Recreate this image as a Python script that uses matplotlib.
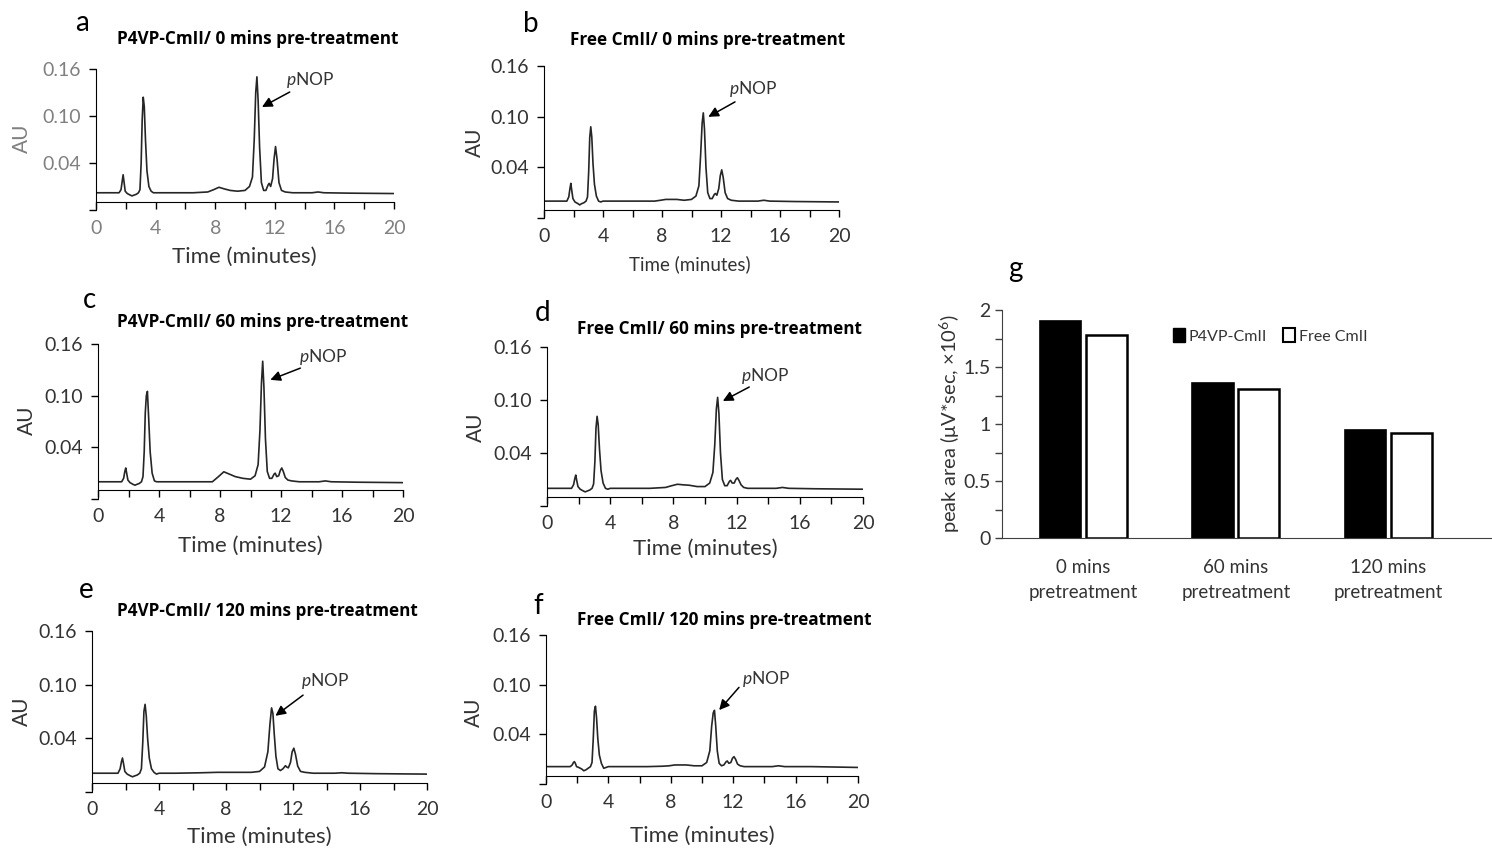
import matplotlib
matplotlib.use('Agg')
import matplotlib.pyplot as plt
from matplotlib.patches import Patch

plt.rcParams['font.family'] = ['Lato', 'DejaVu Sans']
plt.rcParams['mathtext.fontset'] = 'custom'
plt.rcParams['mathtext.rm'] = 'Lato'
plt.rcParams['mathtext.it'] = 'Lato:italic'

W, H = 1492, 851

# --- chromatogram data (time in minutes, absorbance in AU) ---
time_min = [0.0, 1.0, 1.55, 1.68, 1.76, 1.82, 1.88, 1.96, 2.1, 2.3,
            2.42, 2.55, 2.7, 2.85, 2.95, 3.03, 3.1, 3.17, 3.24, 3.32,
            3.42, 3.55, 3.7, 3.85, 4.0, 5.0, 6.5, 7.5, 7.9, 8.25,
            8.6, 9.0, 9.5, 10.0, 10.3, 10.5, 10.62, 10.72, 10.8, 10.88,
            10.98, 11.1, 11.25, 11.4, 11.55, 11.62, 11.72, 11.85, 11.95, 12.05,
            12.15, 12.28, 12.45, 12.7, 13.2, 14.5, 14.9, 15.3, 17.0, 20.0]

au_p4vp_0 = [0.002, 0.002, 0.002, 0.006, 0.017, 0.025, 0.016, 0.004, 0.001, -0.001,
             -0.002, -0.001, 0.000, 0.002, 0.006, 0.040, 0.095, 0.124, 0.112, 0.070,
             0.030, 0.010, 0.004, 0.002, 0.002, 0.002, 0.002, 0.003, 0.006, 0.009,
             0.007, 0.005, 0.004, 0.005, 0.010, 0.022, 0.070, 0.130, 0.150, 0.120,
             0.060, 0.015, 0.005, 0.005, 0.012, 0.014, 0.010, 0.020, 0.045, 0.061,
             0.045, 0.015, 0.005, 0.003, 0.002, 0.002, 0.003, 0.002, 0.0015, 0.001]

au_free_0 = [0.000, 0.000, 0.000, 0.005, 0.015, 0.021, 0.013, 0.003, -0.001, -0.003,
             -0.0045, -0.003, -0.002, 0.000, 0.005, 0.035, 0.075, 0.088, 0.076, 0.045,
             0.020, 0.006, 0.000, -0.001, 0.000, 0.000, 0.000, 0.000, 0.001, 0.002,
             0.002, 0.002, 0.001, 0.002, 0.006, 0.018, 0.055, 0.092, 0.1045, 0.085,
             0.040, 0.010, 0.003, 0.003, 0.008, 0.009, 0.007, 0.015, 0.030, 0.037,
             0.028, 0.010, 0.003, 0.001, 0.000, 0.000, 0.001, 0.000, -0.0005, -0.001]

au_p4vp_60 = [0.000, 0.000, 0.000, 0.004, 0.012, 0.016, 0.010, 0.002, -0.001, -0.003,
              -0.004, -0.003, -0.002, 0.000, 0.006, 0.035, 0.080, 0.100, 0.105, 0.075,
              0.035, 0.010, 0.001, 0.000, 0.000, 0.000, 0.000, 0.000, 0.006, 0.0116,
              0.009, 0.006, 0.004, 0.003, 0.007, 0.020, 0.060, 0.115, 0.140, 0.110,
              0.050, 0.012, 0.004, 0.004, 0.009, 0.010, 0.006, 0.007, 0.013, 0.016,
              0.012, 0.005, 0.002, 0.001, 0.000, 0.000, 0.001, 0.000, -0.0005, -0.001]

au_free_60 = [0.000, 0.000, 0.000, 0.004, 0.011, 0.015, 0.009, 0.002, -0.001, -0.003,
              -0.004, -0.003, -0.002, 0.000, 0.005, 0.030, 0.068, 0.0815, 0.072, 0.045,
              0.020, 0.006, 0.000, -0.001, 0.000, 0.000, 0.000, 0.001, 0.003, 0.0046,
              0.004, 0.0035, 0.002, 0.002, 0.006, 0.018, 0.050, 0.090, 0.103, 0.085,
              0.040, 0.010, 0.003, 0.003, 0.008, 0.009, 0.006, 0.006, 0.010, 0.012,
              0.009, 0.004, 0.001, 0.000, 0.000, 0.000, 0.001, 0.000, -0.0005, -0.001]

au_p4vp_120 = [0.001, 0.001, 0.001, 0.006, 0.014, 0.018, 0.012, 0.003, 0.000, -0.002,
               -0.003, -0.002, -0.001, 0.001, 0.006, 0.035, 0.070, 0.078, 0.065, 0.040,
               0.018, 0.006, 0.002, 0.000, 0.001, 0.001, 0.0015, 0.002, 0.002, 0.002,
               0.002, 0.002, 0.002, 0.003, 0.008, 0.025, 0.055, 0.074, 0.068, 0.045,
               0.020, 0.006, 0.004, 0.006, 0.0094, 0.008, 0.007, 0.013, 0.025, 0.029,
               0.022, 0.009, 0.003, 0.002, 0.001, 0.001, 0.0015, 0.001, 0.0005, 0.000]

au_free_120 = [0.001, 0.001, 0.001, 0.003, 0.006, 0.007, 0.005, 0.001, 0.000, -0.002,
               -0.004, -0.003, -0.001, 0.001, 0.006, 0.035, 0.068, 0.074, 0.060, 0.035,
               0.015, 0.005, -0.001, 0.000, 0.001, 0.001, 0.001, 0.0015, 0.002, 0.003,
               0.003, 0.003, 0.002, 0.002, 0.006, 0.020, 0.050, 0.066, 0.069, 0.050,
               0.020, 0.005, 0.002, 0.003, 0.007, 0.0078, 0.005, 0.006, 0.011, 0.013,
               0.010, 0.004, 0.002, 0.001, 0.001, 0.001, 0.002, 0.001, 0.001, 0.000]

au_ticks = [-0.02, 0.04, 0.10, 0.16]
au_ticklabels = ['', '0.04', '0.10', '0.16']

# --- bar chart data (peak area, x10^6 uV*sec) ---
bar_groups = ['0 mins\npretreatment', '60 mins\npretreatment', '120 mins\npretreatment']
area_p4vp = [1.90, 1.36, 0.95]
area_free = [1.78, 1.305, 0.925]

fig = plt.figure(figsize=(W / 100, H / 100), dpi=100)
TXT = '#333333'


def px_axes(l, t, r, b):
    return fig.add_axes([l / W, 1 - b / H, (r - l) / W, (b - t) / H])


def ftext(x, y, s, **kw):
    fig.text(x / W, 1 - y / H, s, **kw)


def chrom(box, values, head, tail, label_pos, tick_color):
    ax = px_axes(*box)
    ax.plot(time_min, values, color='#262626', lw=1.2)
    ax.set_xlim(0, 20)
    ax.set_ylim(-0.02, 0.16)
    ax.spines['top'].set_visible(False)
    ax.spines['right'].set_visible(False)
    ax.spines['bottom'].set_position(('data', -0.01))
    ax.set_xticks(range(0, 21, 2))
    ax.set_xticklabels([str(v) if v % 4 == 0 else '' for v in range(0, 21, 2)])
    ax.set_yticks(au_ticks)
    ax.set_yticklabels(au_ticklabels)
    ax.tick_params(direction='out', length=5, width=1, labelsize=14,
                   labelcolor=tick_color, pad=8)
    ax.tick_params(axis='y', pad=6)
    ax.annotate('', xy=head, xytext=tail,
                arrowprops=dict(arrowstyle='-|>', color='black', lw=1.1,
                                mutation_scale=15, shrinkA=0, shrinkB=0))
    ax.text(label_pos[0], label_pos[1], r'$\mathit{p}$NOP', ha='center',
            va='center', fontsize=12.5, color=TXT)
    return ax


chrom((96, 69, 394, 210), au_p4vp_0, (11.14, 0.1115), (13.0, 0.1306), (14.4, 0.146), '#808080')
chrom((544, 66, 839, 218), au_free_0, (11.14, 0.0998), (12.95, 0.1175), (14.17, 0.1325), TXT)
chrom((98, 344, 403, 499), au_p4vp_60, (11.3, 0.1184), (13.27, 0.132), (14.78, 0.1452), TXT)
chrom((547, 347, 863, 506), au_free_60, (11.13, 0.0989), (12.8, 0.1147), (13.79, 0.1268), TXT)
chrom((92, 631, 427, 792), au_p4vp_120, (10.95, 0.0652), (12.6, 0.0883), (13.89, 0.104), TXT)
chrom((546, 635, 858, 784), au_free_120, (11.1, 0.0693), (12.37, 0.0967), (14.09, 0.1068), TXT)

# panel letters and titles
for s, x, y in [('a', 82, 23), ('b', 531, 24), ('c', 89, 300), ('d', 543, 313),
                ('e', 86, 590), ('f', 538, 606), ('g', 1015, 269)]:
    ftext(x, y, s, fontsize=20, ha='center', va='center', color='black')

for s, x, y in [('P4VP-CmII/ 0 mins pre-treatment', 117, 39),
                ('Free CmII/ 0 mins pre-treatment', 570, 40),
                ('P4VP-CmII/ 60 mins pre-treatment', 117, 322),
                ('Free CmII/ 60 mins pre-treatment', 577, 329),
                ('P4VP-CmII/ 120 mins pre-treatment', 117, 611),
                ('Free CmII/ 120 mins pre-treatment', 577, 620)]:
    ftext(x, y, s, fontsize=12.3, fontweight='bold', family=['Open Sans', 'DejaVu Sans'],
          ha='left', va='center', color='black')

for x, y, c in [(22, 138, '#808080'), (475, 142, TXT), (27, 420, TXT),
                (476, 427, TXT), (22, 711, TXT), (474, 712, TXT)]:
    ftext(x, y, 'AU', fontsize=15, rotation=90, ha='center', va='center', color=c)

for x, y, fs in [(244, 257, 16), (690, 264, 13.5), (250, 546, 16),
                 (705, 549, 16), (259, 837, 16), (702, 836, 16)]:
    ftext(x, y, 'Time (minutes)', fontsize=fs, ha='center', va='center', color=TXT)

# --- panel g: bar chart ---
axg = px_axes(1002, 310, 1492, 538)
xs = range(len(bar_groups))
axg.bar([x - 0.15 for x in xs], area_p4vp, 0.27, color='black', edgecolor='black',
        lw=1.2, label='P4VP-CmII')
axg.bar([x + 0.15 for x in xs], area_free, 0.27, color='white', edgecolor='black',
        lw=1.8, label='Free CmII')
axg.set_xlim(-0.533, 2.68)
axg.set_ylim(0, 2)
axg.spines['top'].set_visible(False)
axg.spines['right'].set_visible(False)
axg.spines['left'].set_color('#404040')
axg.spines['bottom'].set_color('#404040')
axg.set_xticks(list(xs))
axg.set_xticklabels(bar_groups, fontsize=13.5, color=TXT, linespacing=1.55)
axg.tick_params(axis='x', length=0, pad=15)
axg.set_yticks([0, 0.5, 1, 1.5, 2])
axg.set_yticklabels(['0', '0.5', '1', '1.5', '2'])
axg.set_yticks([0.25, 0.75, 1.25, 1.75], minor=True)
axg.tick_params(axis='y', which='both', direction='out', length=5, width=1,
                labelsize=14, labelcolor=TXT, color='#404040', pad=3)
ftext(950, 424, 'peak area (μV*sec, ×10$^{6}$)', fontsize=14.5, rotation=90,
      ha='center', va='center', color=TXT)
handles = [Patch(facecolor='black', edgecolor='black'),
           Patch(facecolor='white', edgecolor='black', lw=1.5)]
fig.legend(handles, ['P4VP-CmII', 'Free CmII'], loc='center left',
           bbox_to_anchor=(1173 / W, 1 - 336 / H), ncol=2, frameon=False,
           fontsize=11.5, handlelength=0.75, handleheight=0.9, handletextpad=0.25,
           columnspacing=1.0, borderpad=0, borderaxespad=0, labelcolor=TXT)

fig.savefig('out.png', dpi=100)
